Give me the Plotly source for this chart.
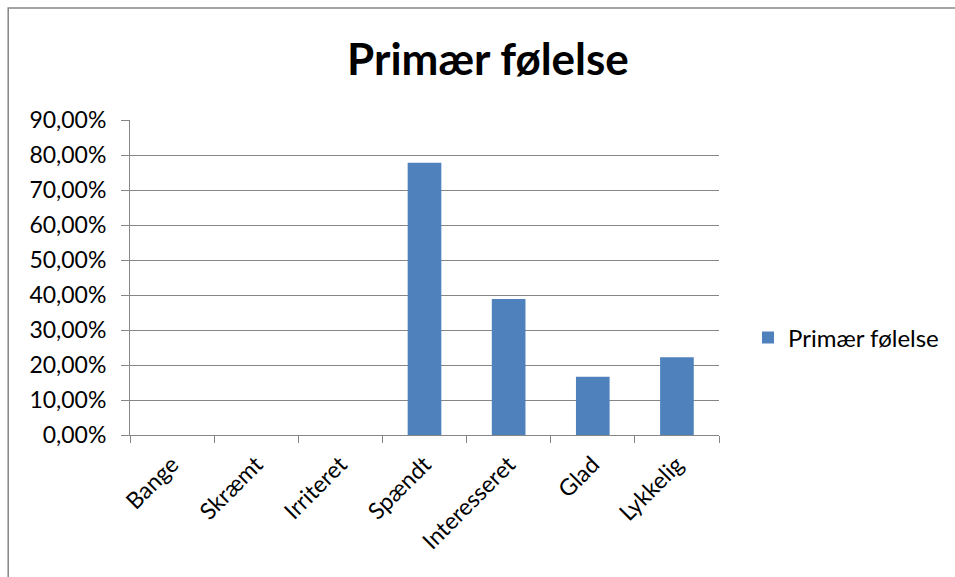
import plotly.graph_objects as go

categories = ["Bange", "Skræmt", "Irriteret", "Spændt", "Interesseret", "Glad", "Lykkelig"]
values = [0.0, 0.0, 0.0, 0.7778, 0.3889, 0.1667, 0.2222]
series_name = "Primær følelse"
title_text = "Primær følelse"

FONT = "Lato"
GRID = "#868686"

fig = go.Figure()
fig.add_trace(go.Bar(
    x=categories, y=values, name=series_name,
    marker=dict(color="#4F81BD", line=dict(width=0)),
    showlegend=True,
))

fig.update_layout(
    width=955, height=577,
    margin=dict(l=130, r=235, t=120, b=142),
    paper_bgcolor="white", plot_bgcolor="white",
    separators=", ",
    bargap=0.6,
    font=dict(family=FONT, color="black", size=23),
    title=dict(text="<b>" + title_text + "</b>", x=0.511, xref="container",
               xanchor="center", y=1 - 60 / 577, yref="container", yanchor="middle",
               font=dict(family=FONT, size=44, color="black")),
    legend=dict(x=(748 - 130) / 590, xanchor="left", y=(435 - 338) / 315, yanchor="middle",
                font=dict(family=FONT, size=24, color="black"), bgcolor="rgba(0,0,0,0)",
                itemwidth=30, tracegroupgap=0),
    xaxis=dict(type="category", showline=True, linecolor=GRID, linewidth=1,
               ticks="outside", ticklen=7, tickcolor=GRID, tickwidth=1,
               tickson="boundaries", tickangle=-45, showgrid=False,
               ticklabelstandoff=6,
               tickfont=dict(family=FONT, size=23, color="black")),
    yaxis=dict(range=[0, 0.9], dtick=0.1, tick0=0, tickformat=".2%",
               showline=True, linecolor=GRID, linewidth=1,
               ticks="outside", ticklen=8, tickcolor=GRID, tickwidth=1,
               showgrid=True, gridcolor=GRID, gridwidth=1, zeroline=False,
               ticklabelstandoff=10,
               tickfont=dict(family=FONT, size=23, color="black")),
    shapes=[dict(type="rect", xref="paper", yref="paper",
                 x0=(8 - 130) / 590, x1=2.0, y0=-2.0, y1=1 + (120 - 8) / 315,
                 line=dict(color=GRID, width=1.5), fillcolor="rgba(0,0,0,0)", layer="below")],
)

fig.write_html("out.html")
